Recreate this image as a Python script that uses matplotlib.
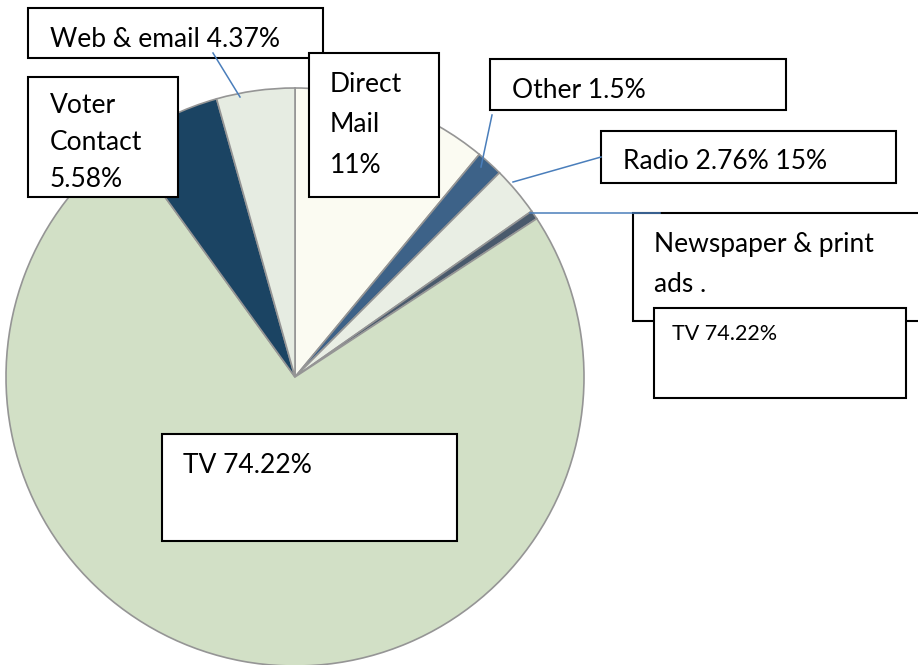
import matplotlib
matplotlib.use("Agg")
import matplotlib.pyplot as plt
from matplotlib.patches import Rectangle

# slices, clockwise from 12 o'clock
labels = ["Direct Mail", "Other", "Radio", "Newspaper & print ads", "TV", "Voter Contact", "Web & email"]
shares = [11.0, 1.5, 2.76, 0.5, 74.22, 5.58, 4.37]
colors = ["#fbfbf2", "#3d6288", "#e9eee4", "#4a5a6c", "#d2e0c6", "#1b4463", "#e6ece2"]

W, H = 918, 665
plt.rcParams['font.family'] = ['Lato', 'DejaVu Sans']

fig = plt.figure(figsize=(W / 100, H / 100), dpi=100)
ax = fig.add_axes([0, 0, 1, 1])

def py(y):
    # pixel row -> data y
    return H - y

ax.pie(shares, colors=colors, startangle=90, counterclock=False,
       center=(295, py(377)), radius=289,
       wedgeprops=dict(edgecolor="#959595", linewidth=1.2))
ax.set_xlim(0, W)
ax.set_ylim(0, H)
ax.set_aspect("equal")
ax.axis("off")

lead = "#4a7ebb"

def box(x0, y0, x1, y1):
    ax.add_patch(Rectangle((x0, py(y1)), x1 - x0, y1 - y0, facecolor="white",
                           edgecolor="black", linewidth=1.5, zorder=5))

def txt(x, y, s, size=19):
    ax.text(x, py(y), s, fontsize=size, ha="left", va="baseline", zorder=6)

def line(x0, y0, x1, y1):
    ax.plot([x0, x1], [py(y0), py(y1)], color=lead, linewidth=1.1, zorder=7)

# Web & email
box(28, 8, 323, 58)
txt(50, 47, "Web & email 4.37%")
line(213, 53, 240, 97)

# Voter contact
box(28, 77, 178, 197)
for i, s in enumerate(["Voter", "Contact", "5.58%"]):
    txt(50, 113 + 37 * i, s)

# Direct mail
box(309, 53, 439, 197)
for i, s in enumerate(["Direct", "Mail", "11%"]):
    txt(330, 92 + 40.5 * i, s)

# Other
box(490, 59, 786, 110)
txt(512, 98, "Other 1.5%")
line(492, 115, 481, 167)

# Radio
box(601, 131, 896, 183)
txt(623, 169, "Radio 2.76% 15%")
line(601, 157, 513, 182)

# Newspaper & print ads
box(633, 213, 930, 321)
txt(654, 252, "Newspaper & print")
txt(654, 292, "ads .")
line(530, 213, 660, 213)

# small TV box
box(654, 308, 906, 398)
txt(672, 340, "TV 74.22%", size=15.5)

# main TV box
box(162, 434, 457, 541)
txt(183, 473, "TV 74.22%")

fig.savefig("out.png", dpi=100, facecolor="white")
